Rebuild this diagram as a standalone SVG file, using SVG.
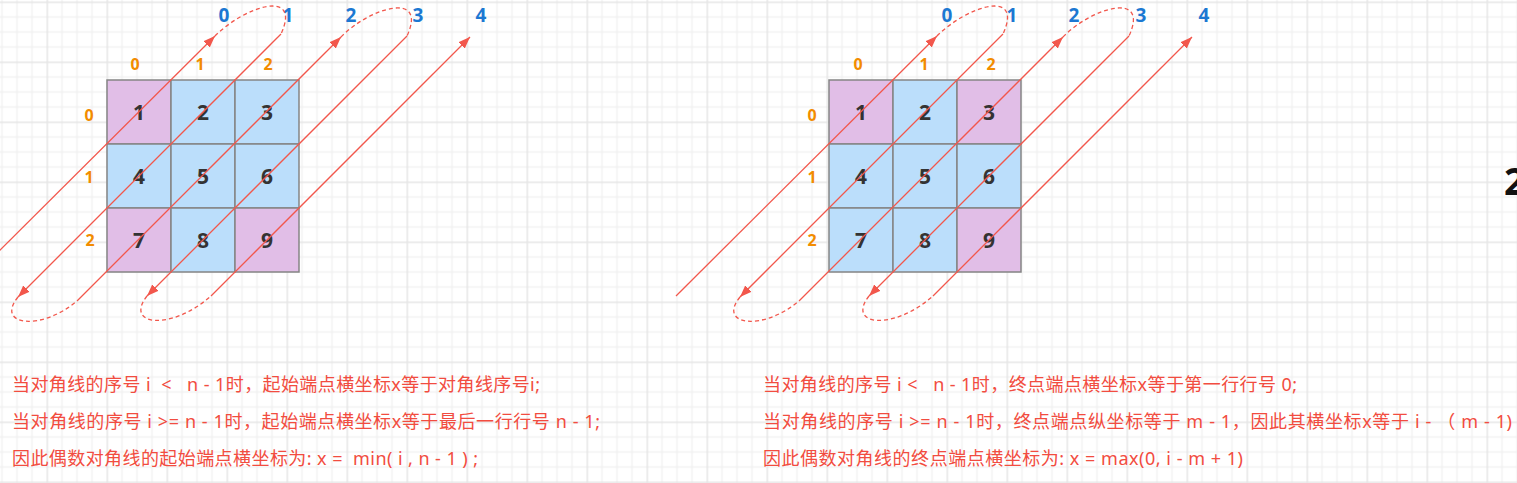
<svg xmlns="http://www.w3.org/2000/svg" width="1517" height="483" viewBox="0 0 1517 483">
<style>
.cellP{fill:#e1bee7;stroke:#858585;stroke-width:1.5}
.cellB{fill:#bbdefb;stroke:#858585;stroke-width:1.5}
.num{font-family:"Open Sans","Liberation Sans",sans-serif;font-weight:700;font-size:21px;fill:#333333;text-anchor:middle}
.top{font-family:"Open Sans","Liberation Sans",sans-serif;font-weight:700;font-size:19px;fill:#1c78d2;text-anchor:middle}
.idx{font-family:"Open Sans","Liberation Sans",sans-serif;font-weight:700;font-size:16px;fill:#f28c00;text-anchor:middle}
.note{font-family:"Noto Sans","Noto Sans CJK SC",sans-serif;font-size:18px;fill:#f24c40;white-space:pre}
.sol{fill:none;stroke:#f2574c;stroke-width:1.3}
.dash{fill:none;stroke:#f2574c;stroke-width:1.3;stroke-dasharray:4 3}
</style>
<defs>
<pattern id="grid" x="46.5" y="1.5" width="60" height="60" patternUnits="userSpaceOnUse">
<path d="M15.5 0V60M30.5 0V60M45.5 0V60M0 15.5H60M0 30.5H60M0 45.5H60" stroke="#f1f1f1" stroke-width="1.5" fill="none"/>
<path d="M0.5 0V60M0 0.5H60" stroke="#e6e6e6" stroke-width="2" fill="none"/>
</pattern>
<marker id="ah" markerUnits="userSpaceOnUse" markerWidth="14" markerHeight="10" refX="12" refY="5" orient="auto">
<path d="M0,0.5 L12,5 L0,9.5 z" fill="#f2574c"/>
</marker>
</defs>
<rect width="1517" height="483" fill="#ffffff"/>
<rect width="1517" height="483" fill="url(#grid)"/>

<g id="diagram-left">
<g id="L-cell-1"><rect class="cellP" x="107" y="80" width="64" height="64"/><text class="num" x="139" y="120">1</text></g>
<g id="L-cell-2"><rect class="cellB" x="171" y="80" width="64" height="64"/><text class="num" x="203" y="120">2</text></g>
<g id="L-cell-3"><rect class="cellB" x="235" y="80" width="64" height="64"/><text class="num" x="267" y="120">3</text></g>
<g id="L-cell-4"><rect class="cellB" x="107" y="144" width="64" height="64"/><text class="num" x="139" y="184">4</text></g>
<g id="L-cell-5"><rect class="cellB" x="171" y="144" width="64" height="64"/><text class="num" x="203" y="184">5</text></g>
<g id="L-cell-6"><rect class="cellB" x="235" y="144" width="64" height="64"/><text class="num" x="267" y="184">6</text></g>
<g id="L-cell-7"><rect class="cellP" x="107" y="208" width="64" height="64"/><text class="num" x="139" y="248">7</text></g>
<g id="L-cell-8"><rect class="cellB" x="171" y="208" width="64" height="64"/><text class="num" x="203" y="248">8</text></g>
<g id="L-cell-9"><rect class="cellP" x="235" y="208" width="64" height="64"/><text class="num" x="267" y="248">9</text></g>
<g id="L-col-labels"><text class="idx" x="135" y="70">0</text><text class="idx" x="200" y="70">1</text><text class="idx" x="268" y="70">2</text></g>
<g id="L-row-labels"><text class="idx" x="89" y="121">0</text><text class="idx" x="89" y="183">1</text><text class="idx" x="90" y="246">2</text></g>
<g id="L-diag-labels"><text class="top" x="224" y="22">0</text><text class="top" x="288" y="22">1</text><text class="top" x="351" y="22">2</text><text class="top" x="418" y="22">3</text><text class="top" x="481" y="22">4</text></g>
<g id="L-connectors">
<path class="sol" d="M-46,296 L215,36" marker-end="url(#ah)"/>
<path class="dash" d="M215,36 C245,6 302,-12 281,34"/>
<path class="sol" d="M281,34 L18,297" marker-end="url(#ah)"/>
<path class="dash" d="M18,297 C-5,325 40,332 77,301"/>
<path class="sol" d="M77,301 L341,37" marker-end="url(#ah)"/>
<path class="dash" d="M341,37 C369,8 428,-10 407,36"/>
<path class="sol" d="M407,36 L147,296" marker-end="url(#ah)"/>
<path class="dash" d="M147,296 C124,325 170,332 211,296"/>
<path class="sol" d="M211,296 L470,37" marker-end="url(#ah)"/>
</g>
</g>

<g id="diagram-right" transform="translate(722,0)">
<g id="R-cell-1"><rect class="cellP" x="107" y="80" width="64" height="64"/><text class="num" x="139" y="120">1</text></g>
<g id="R-cell-2"><rect class="cellB" x="171" y="80" width="64" height="64"/><text class="num" x="203" y="120">2</text></g>
<g id="R-cell-3"><rect class="cellP" x="235" y="80" width="64" height="64"/><text class="num" x="267" y="120">3</text></g>
<g id="R-cell-4"><rect class="cellB" x="107" y="144" width="64" height="64"/><text class="num" x="139" y="184">4</text></g>
<g id="R-cell-5"><rect class="cellB" x="171" y="144" width="64" height="64"/><text class="num" x="203" y="184">5</text></g>
<g id="R-cell-6"><rect class="cellB" x="235" y="144" width="64" height="64"/><text class="num" x="267" y="184">6</text></g>
<g id="R-cell-7"><rect class="cellB" x="107" y="208" width="64" height="64"/><text class="num" x="139" y="248">7</text></g>
<g id="R-cell-8"><rect class="cellB" x="171" y="208" width="64" height="64"/><text class="num" x="203" y="248">8</text></g>
<g id="R-cell-9"><rect class="cellP" x="235" y="208" width="64" height="64"/><text class="num" x="267" y="248">9</text></g>
<g id="R-col-labels"><text class="idx" x="136" y="70">0</text><text class="idx" x="202" y="70">1</text><text class="idx" x="269" y="70">2</text></g>
<g id="R-row-labels"><text class="idx" x="90" y="121">0</text><text class="idx" x="90" y="183">1</text><text class="idx" x="90" y="246">2</text></g>
<g id="R-diag-labels"><text class="top" x="225" y="22">0</text><text class="top" x="290" y="22">1</text><text class="top" x="352" y="22">2</text><text class="top" x="419" y="22">3</text><text class="top" x="482" y="22">4</text></g>
<g id="R-connectors">
<path class="sol" d="M-46,296 L215,36" marker-end="url(#ah)"/>
<path class="dash" d="M215,36 C245,6 302,-12 281,34"/>
<path class="sol" d="M281,34 L18,297" marker-end="url(#ah)"/>
<path class="dash" d="M18,297 C-5,325 40,332 77,301"/>
<path class="sol" d="M77,301 L341,37" marker-end="url(#ah)"/>
<path class="dash" d="M341,37 C369,8 428,-10 407,36"/>
<path class="sol" d="M407,36 L147,296" marker-end="url(#ah)"/>
<path class="dash" d="M147,296 C124,325 170,332 211,296"/>
<path class="sol" d="M211,296 L470,37" marker-end="url(#ah)"/>
</g>
</g>

<g id="notes-left">
<text class="note" x="12" y="391" textLength="528" lengthAdjust="spacing">当对角线的序号 i  &lt;   n - 1时，起始端点横坐标x等于对角线序号i;</text>
<text class="note" x="12" y="428" textLength="588" lengthAdjust="spacing">当对角线的序号 i &gt;= n - 1时，起始端点横坐标x等于最后一行行号 n - 1;</text>
<text class="note" x="12" y="465" textLength="466" lengthAdjust="spacing">因此偶数对角线的起始端点横坐标为: x =  min( i , n - 1 ) ;</text>
</g>
<g id="notes-right">
<text class="note" x="763" y="391" textLength="534" lengthAdjust="spacing">当对角线的序号 i &lt;   n - 1时，终点端点横坐标x等于第一行行号 0;</text>
<text class="note" x="763" y="428" textLength="749" lengthAdjust="spacing">当对角线的序号 i &gt;= n - 1时，终点端点纵坐标等于 m - 1，因此其横坐标x等于 i - （ m - 1)</text>
<text class="note" x="763" y="465" textLength="480" lengthAdjust="spacing">因此偶数对角线的终点端点横坐标为: x = max(0, i - m + 1)</text>
</g>
<text x="1504" y="195" font-family="'Open Sans','Liberation Sans',sans-serif" font-weight="700" font-size="37" fill="#111111">2</text>
</svg>
